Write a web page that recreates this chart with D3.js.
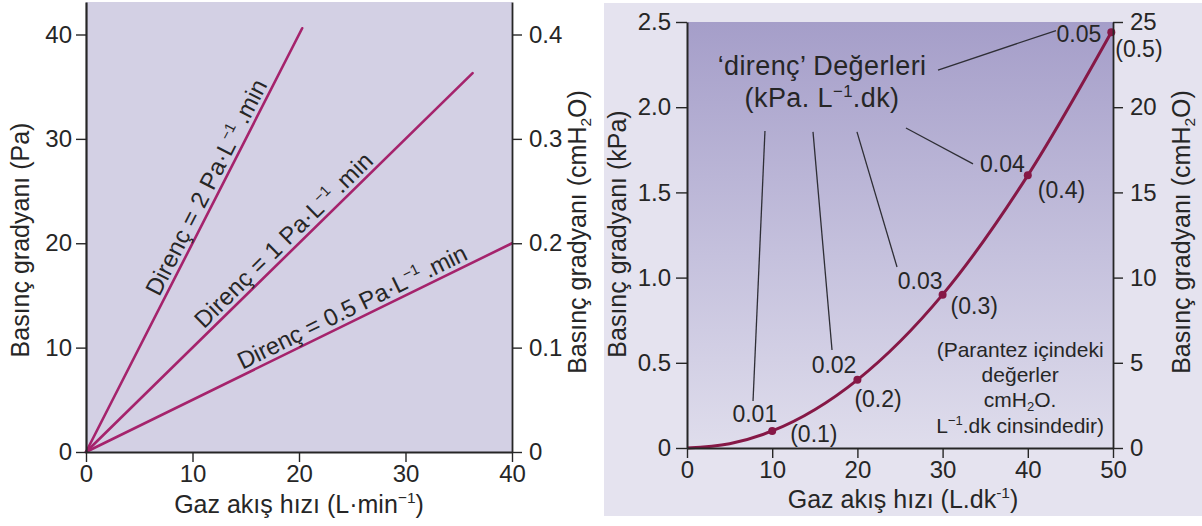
<!DOCTYPE html>
<html><head><meta charset="utf-8">
<script src="https://cdn.jsdelivr.net/npm/d3@7"></script>
<style>
html,body{margin:0;padding:0;background:#fff;}
svg{display:block;font-family:"Liberation Sans",Arial,Helvetica,sans-serif;}
</style></head>
<body>
<svg id="c" width="1202" height="526"></svg>
<script>
// ---------- DATA ----------
// Left chart: linear resistance lines (flow L/min -> pressure Pa)
const resistances = [2, 1, 0.5];
const lineEndFlow = [20.3, 36.3, 40];
const leftXTicks = [0, 10, 20, 30, 40];
const leftYTicks = [0, 10, 20, 30, 40];
const leftY2Ticks = [0, 0.1, 0.2, 0.3, 0.4];
const lineLabelNums = ["2", "1", "0.5"];

// Right chart: turbulent flow curve (flow L/dk -> pressure kPa)
const flowR = [0, 5, 10, 20, 30, 40, 49.8];
const presR = [0, 0.025, 0.1, 0.4, 0.9, 1.6, 2.44];
const markerIdx = [2, 3, 4, 5, 6];
const resistKPa = ["0.01", "0.02", "0.03", "0.04", "0.05"];
const resistCm = ["(0.1)", "(0.2)", "(0.3)", "(0.4)", "(0.5)"];
const rightXTicks = [0, 10, 20, 30, 40, 50];
const rightYTicks = [0, 0.5, 1.0, 1.5, 2.0, 2.5];
const rightY2Ticks = [0, 5, 10, 15, 20, 25];

// ---------- LAYOUT ----------
const svg = d3.select("#c");
const INK = "#262626";
const LINEC = "#a5236c";
const CURVEC = "#861846";

function rich(sel, parts) {
  // parts: [text, kind] kind: undefined | 'sup' | 'sub'
  let pending = null;
  parts.forEach(p => {
    const [t, k] = Array.isArray(p) ? p : [p];
    if (!k) {
      const ts = sel.append("tspan").text(t);
      if (pending) ts.attr("dy", pending);
      pending = null;
    } else {
      const up = k === "sup";
      sel.append("tspan").attr("font-size", "0.62em").attr("dy", up ? "-0.62em" : "0.3em").text(t);
      pending = up ? "0.385em" : "-0.186em";
    }
  });
  return sel;
}

// ===== LEFT CHART =====
const xL = d3.scaleLinear().domain([0, 40]).range([86, 512]);
const yL = d3.scaleLinear().domain([0, 40]).range([452, 34.5]);
const yLtop = yL.invert(2);

const gL = svg.append("g");
gL.append("rect").attr("x", xL(0)).attr("y", yL(yLtop)).attr("width", xL(40) - xL(0))
  .attr("height", yL(0) - yL(yLtop)).attr("fill", "#d3d0e4");

// lines
resistances.forEach((r, i) => {
  gL.append("line").attr("x1", xL(0)).attr("y1", yL(0))
    .attr("x2", xL(lineEndFlow[i])).attr("y2", yL(r * lineEndFlow[i]))
    .attr("stroke", LINEC).attr("stroke-width", 2.6).attr("stroke-linecap", "round");
});

// line labels
const labStart = [7.3, 11.4, 14.9];
const labOff = [5, 5, 5];
const labSpacing = [0.2, 0.2, -0.1];
resistances.forEach((r, i) => {
  const a = Math.atan2(yL(r) - yL(0), xL(1) - xL(0));
  const t = labStart[i];
  const px = xL(t) + labOff[i] * Math.sin(a);
  const py = yL(r * t) - labOff[i] * Math.cos(a);
  const tx = gL.append("text").attr("transform", `translate(${px},${py}) rotate(${a * 180 / Math.PI})`)
    .attr("font-size", 24).attr("fill", INK).attr("letter-spacing", labSpacing[i]);
  rich(tx, [`Direnç = ${lineLabelNums[i]} Pa·L`, ["\u22121", "sup"], "\u2009.min"]);
});

// axes
function styleAxis(g, w) {
  g.selectAll(".domain").attr("stroke", INK).attr("stroke-width", w);
  g.selectAll(".tick line").attr("stroke", INK).attr("stroke-width", 1.4);
  g.selectAll(".tick text").attr("fill", INK).attr("font-size", 24)
    .attr("font-family", '"Liberation Sans",Arial,sans-serif');
}
const axLB = gL.append("g").attr("transform", `translate(0,${yL(0)})`)
  .call(d3.axisBottom(xL).tickValues(leftXTicks).tickSize(10).tickSizeOuter(0).tickPadding(3).tickFormat(d3.format("d")));
styleAxis(axLB, 2.2);
const axLL = gL.append("g").attr("transform", `translate(${xL(0)},0)`)
  .call(d3.axisLeft(d3.scaleLinear().domain([0, yLtop]).range([452, 2])).tickValues(leftYTicks).tickSize(10).tickSizeOuter(0).tickPadding(4).tickFormat(d3.format("d")));
styleAxis(axLL, 2.2);
const axLR = gL.append("g").attr("transform", `translate(${xL(40)},0)`)
  .call(d3.axisRight(d3.scaleLinear().domain([0, yLtop / 100]).range([452, 2])).tickValues(leftY2Ticks).tickSize(10).tickSizeOuter(0).tickPadding(7)
  .tickFormat(d => d === 0 ? "0" : d3.format(".1f")(d)));
styleAxis(axLR, 1.8);

// titles
rich(gL.append("text").attr("x", 299).attr("y", 513).attr("text-anchor", "middle")
  .attr("font-size", 25).attr("fill", INK), ["Gaz akış hızı (L·min", ["\u22121", "sup"], ")"]);
gL.append("text").attr("transform", "translate(29,240) rotate(-90)").attr("text-anchor", "middle")
  .attr("font-size", 25).attr("fill", INK).text("Basınç gradyanı (Pa)");
rich(gL.append("text").attr("transform", "translate(586,232) rotate(-90)").attr("text-anchor", "middle")
  .attr("font-size", 25).attr("fill", INK), ["Basınç gradyanı (cmH", ["2", "sub"], "O)"]);

// ===== RIGHT CHART =====
svg.append("rect").attr("x", 604).attr("y", 3).attr("width", 598).attr("height", 513).attr("fill", "#e5e3ef");

const xR = d3.scaleLinear().domain([0, 50]).range([687, 1113]);
const yR = d3.scaleLinear().domain([0, 2.5]).range([448, 22]);
const yR2 = d3.scaleLinear().domain([0, 25]).range([448, 22]);

const defs = svg.append("defs");
const grad = defs.append("linearGradient").attr("id", "pg").attr("x1", 0).attr("y1", 0).attr("x2", 0).attr("y2", 1);
grad.append("stop").attr("offset", "0%").attr("stop-color", "#a59ec9");
grad.append("stop").attr("offset", "55%").attr("stop-color", "#c5c1dd");
grad.append("stop").attr("offset", "100%").attr("stop-color", "#dfddec");

const gR = svg.append("g");
gR.append("rect").attr("x", xR(0)).attr("y", yR(2.5)).attr("width", xR(50) - xR(0))
  .attr("height", yR(0) - yR(2.5)).attr("fill", "url(#pg)");

// leader lines (data coords)
const leaders = [
  [[9.15, 1.86], [7.75, 0.276]],
  [[14.79, 1.855], [17.02, 0.575]],
  [[19.95, 1.855], [24.65, 1.062]],
  [[25.7, 1.878], [33.57, 1.667]],
  [[29.46, 2.218], [43.31, 2.45]]
];
leaders.forEach(l => {
  gR.append("line").attr("x1", xR(l[0][0])).attr("y1", yR(l[0][1]))
    .attr("x2", xR(l[1][0])).attr("y2", yR(l[1][1]))
    .attr("stroke", "#2e2e35").attr("stroke-width", 1.3);
});

// curve
const pts = flowR.map((f, i) => [f, presR[i]]);
gR.append("path").datum(pts)
  .attr("d", d3.line().x(d => xR(d[0])).y(d => yR(d[1])).curve(d3.curveMonotoneX))
  .attr("fill", "none").attr("stroke", CURVEC).attr("stroke-width", 3);
markerIdx.forEach(i => {
  gR.append("circle").attr("cx", xR(flowR[i])).attr("cy", yR(presR[i])).attr("r", 4).attr("fill", CURVEC);
});

// point labels (offsets from marker in px)
const kOff = [[5, -9], [-1, -7], [0, -6], [-3, -3], [-10, 10]];
const cOff = [[18, 11], [-3, 27], [8, 19], [10, 23], [4, 25]];
markerIdx.forEach((idx, j) => {
  const mx = xR(flowR[idx]), my = yR(presR[idx]);
  gR.append("text").attr("x", mx + kOff[j][0]).attr("y", my + kOff[j][1]).attr("text-anchor", "end")
    .attr("font-size", 23).attr("fill", INK).text(resistKPa[j]);
  gR.append("text").attr("x", mx + cOff[j][0]).attr("y", my + cOff[j][1]).attr("text-anchor", "start")
    .attr("font-size", 23).attr("fill", INK).text(resistCm[j]);
});

// axes
const axRB = gR.append("g").attr("transform", `translate(0,${yR(0)})`)
  .call(d3.axisBottom(xR).tickValues(rightXTicks).tickSize(10).tickSizeOuter(0).tickPadding(3).tickFormat(d3.format("d")));
styleAxis(axRB, 2);
const axRL = gR.append("g").attr("transform", `translate(${xR(0)},0)`)
  .call(d3.axisLeft(yR).tickValues(rightYTicks).tickSize(11).tickSizeOuter(0).tickPadding(5)
  .tickFormat(d => d === 0 ? "0" : d3.format(".1f")(d)));
styleAxis(axRL, 2);
const axRR = gR.append("g").attr("transform", `translate(${xR(50)},0)`)
  .call(d3.axisRight(yR2).tickValues(rightY2Ticks).tickSize(10).tickSizeOuter(0).tickPadding(7).tickFormat(d3.format("d")));
styleAxis(axRR, 1.8);

// annotation title
gR.append("text").attr("x", xR(15.85)).attr("y", yR(2.19)).attr("text-anchor", "middle")
  .attr("font-size", 27).attr("fill", INK).attr("letter-spacing", 0.4).text("‘direnç’ Değerleri");
rich(gR.append("text").attr("x", xR(15.85)).attr("y", yR(2.0)).attr("text-anchor", "middle")
  .attr("font-size", 27).attr("fill", INK).attr("letter-spacing", 0.4), ["(kPa. L", ["\u22121", "sup"], ".dk)"]);

// note
const noteY = [0.534, 0.387, 0.241, 0.088];
const note = gR.append("g").attr("font-size", 21).attr("fill", INK).attr("text-anchor", "middle");
note.append("text").attr("x", xR(39.1)).attr("y", yR(noteY[0])).text("(Parantez içindeki");
note.append("text").attr("x", xR(39.1)).attr("y", yR(noteY[1])).text("değerler");
rich(note.append("text").attr("x", xR(39.1)).attr("y", yR(noteY[2])), ["cmH", ["2", "sub"], "O."]);
rich(note.append("text").attr("x", xR(39.1)).attr("y", yR(noteY[3])), ["L", ["\u22121", "sup"], ".dk cinsindedir)"]);

// titles
rich(gR.append("text").attr("x", 903).attr("y", 508).attr("text-anchor", "middle")
  .attr("font-size", 25).attr("fill", INK), ["Gaz akış hızı (L.dk", ["-1", "sup"], ")"]);
gR.append("text").attr("transform", "translate(626,234) rotate(-90)").attr("text-anchor", "middle")
  .attr("font-size", 25).attr("fill", INK).text("Basınç gradyanı (kPa)");
rich(gR.append("text").attr("transform", "translate(1190,232) rotate(-90)").attr("text-anchor", "middle")
  .attr("font-size", 25).attr("fill", INK), ["Basınç gradyanı (cmH", ["2", "sub"], "O)"]);
</script>
</body></html>
